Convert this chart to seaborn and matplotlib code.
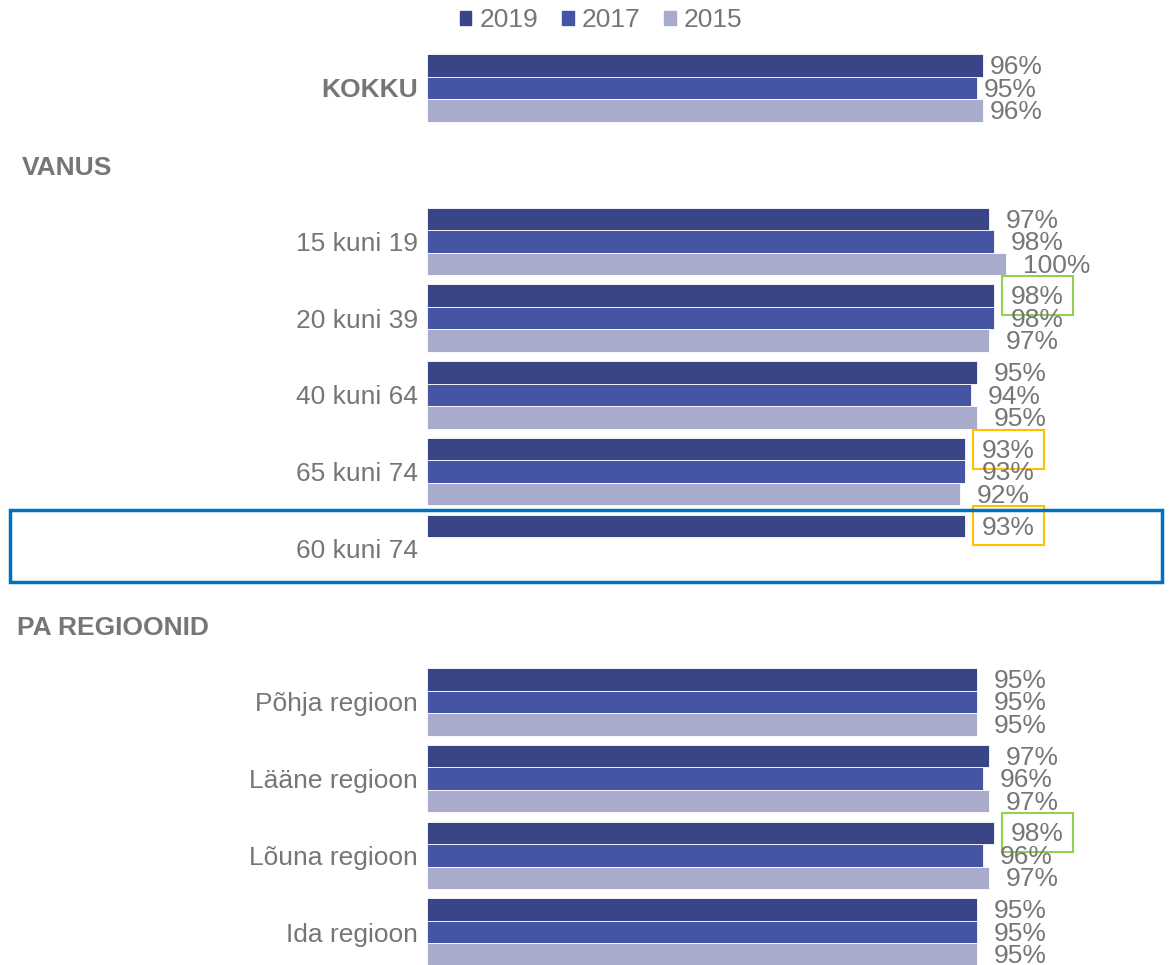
import numpy as np
import pandas as pd
import seaborn as sns
import matplotlib.pyplot as plt
from matplotlib.patches import Patch, Rectangle
from matplotlib.transforms import blended_transform_factory

# row slots (section headers keep an empty slot)
rows = ["KOKKU", "VANUS", "15 kuni 19", "20 kuni 39", "40 kuni 64", "65 kuni 74",
        "60 kuni 74", "PA REGIOONID", "Põhja regioon", "Lääne regioon",
        "Lõuna regioon", "Ida regioon"]
headers = ["VANUS", "PA REGIOONID"]
years = ["2019", "2017", "2015"]

v2019 = [96, np.nan, 97, 98, 95, 93, 93, np.nan, 95, 97, 98, 95]
v2017 = [95, np.nan, 98, 98, 94, 93, np.nan, np.nan, 95, 96, 96, 95]
v2015 = [96, np.nan, 100, 97, 95, 92, np.nan, np.nan, 95, 97, 97, 95]

colors = ["#394587", "#4654a4", "#a8abcc"]
grey = "#767676"

# label boxes drawn around some 2019 values
highlight = {("20 kuni 39", "2019"): "#92d050", ("65 kuni 74", "2019"): "#ffc000",
             ("60 kuni 74", "2019"): "#ffc000", ("Lõuna regioon", "2019"): "#92d050"}

df = pd.DataFrame({"row": rows * 3, "year": np.repeat(years, len(rows)),
                   "value": v2019 + v2017 + v2015}).dropna()

sns.set_theme(style="white")
plt.rcParams["font.family"] = ["Liberation Sans", "DejaVu Sans"]

fig = plt.figure(figsize=(11.73, 9.65), dpi=100)
W, H = 1173, 965
ax = fig.add_axes([427 / W, 0, (W - 427) / W, 1])

sns.barplot(data=df, y="row", x="value", hue="year", order=rows, hue_order=years,
            palette=colors, orient="h", width=0.88, gap=0, ax=ax, legend=False,
            edgecolor="white", linewidth=0.6, saturation=1)

ax.set_xlim(0, (W - 427) / 5.79)
ax.set_ylim(11 + 33 / 76.73, -88 / 76.73)
ax.set_xlabel("")
ax.set_ylabel("")
ax.set_xticks([])
sns.despine(ax=ax, left=True, bottom=True)

ax.set_yticks(range(len(rows)))
ax.set_yticklabels(["" if r in headers else r for r in rows], color=grey, fontsize=19)
ax.tick_params(axis="y", length=0, pad=6.5)
ax.get_yticklabels()[0].set_fontweight("bold")

trans = blended_transform_factory(fig.transFigure, ax.transData)
for r, xpos in zip(headers, [22, 17]):
    ax.text(xpos / W, rows.index(r) + 0.04, r, transform=trans, ha="left", va="center",
            fontsize=19, fontweight="bold", color=grey)

# value labels
boxed = []
for year, cont in zip(years, ax.containers):
    for bar in cont:
        w = bar.get_width()
        if np.isnan(w) or w == 0:
            continue
        yc = bar.get_y() + bar.get_height() / 2
        row = rows[int(round(yc))]
        pad = 5 if row == "KOKKU" else 12
        t = ax.annotate(f"{w:.0f}%", (w, yc), xytext=(pad, -1.2), textcoords="offset points",
                        ha="left", va="center", fontsize=19, color=grey)
        if (row, year) in highlight:
            boxed.append((t, yc, highlight[(row, year)]))

# boxes around highlighted labels (pixel sized, centred on the bar)
renderer = fig.canvas.get_renderer()
ptrans = blended_transform_factory(fig.dpi_scale_trans, ax.transData)
for t, yc, col in boxed:
    bb = t.get_window_extent(renderer)
    x0 = (bb.x0 - 9) / fig.dpi
    ax.add_patch(Rectangle((x0, yc - 19.5 / 76.73), (bb.width + 18) / fig.dpi, 39 / 76.73,
                           transform=ptrans, fill=False, ec=col, lw=1.5, clip_on=False))

# blue frame around the 60 kuni 74 row
i = rows.index("60 kuni 74")
ax.add_patch(Rectangle((10 / W, i - 0.5), 1152 / W, 0.94, transform=trans, fill=False,
                       ec="#0070c0", lw=2.5, clip_on=False))

handles = [Patch(color=c, label=y) for c, y in zip(colors, years)]
fig.legend(handles=handles, loc="center", bbox_to_anchor=(601 / W, 1 - 20 / H), ncol=3,
           frameon=False, fontsize=19, labelcolor=grey, handlelength=0.45,
           handleheight=0.45, handletextpad=0.3, columnspacing=0.9)

fig.savefig("out.png", dpi=100)
